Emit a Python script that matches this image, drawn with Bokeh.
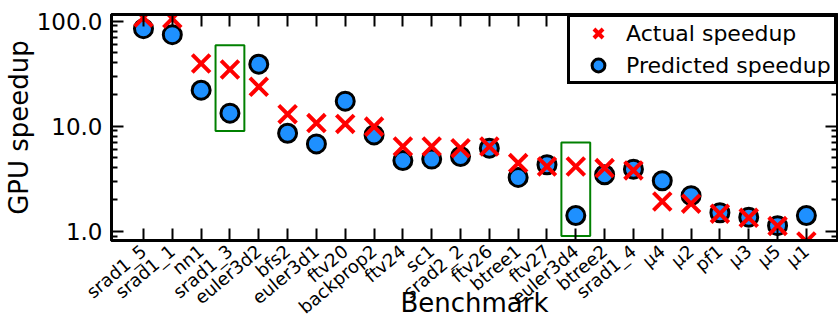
from bokeh.plotting import figure
from bokeh.models import (Range1d, FixedTicker, LinearAxis, LogAxis, PrintfTickFormatter,
                          Legend, LegendItem, ColumnDataSource)
from bokeh.embed import file_html
from bokeh.resources import INLINE
import math

benchmarks = ["srad1_5", "srad1_1", "nn1", "srad1_3", "euler3d2", "bfs2", "euler3d1",
              "ftv20", "backprop2", "ftv24", "sc1", "srad2_2", "ftv26", "btree1", "ftv27",
              "euler3d4", "btree2", "srad1_4", "μ4", "μ2", "pf1", "μ3", "μ5", "μ1"]
actual = [108, 106, 39.5, 34.6, 23.7, 13.0, 10.7, 10.5, 9.9, 6.4, 6.4, 6.17, 6.4, 4.45,
          4.13, 4.13, 3.99, 3.79, 1.92, 1.83, 1.47, 1.34, 1.12, 0.80]
predicted = [84.7, 74.3, 22.0, 13.3, 38.9, 8.57, 6.78, 17.3, 8.26, 4.71, 4.86, 5.14, 6.17,
             3.25, 4.29, 1.41, 3.45, 3.90, 3.02, 2.18, 1.50, 1.36, 1.13, 1.41]
# highlighted benchmarks (index) and box extents in speedup units
box_index = [3, 15]
box_bottom = [9.0, 0.9]
box_top = [59.0, 7.0]
y_major = [1, 10, 100]
y_minor = [0.9, 2, 3, 4, 5, 6, 7, 8, 9, 20, 30, 40, 50, 60, 70, 80, 90]

FONT = "DejaVu Sans"
xs = list(range(len(benchmarks)))

p = figure(width=838, height=320, y_axis_type="log", output_backend="svg",
           toolbar_location=None, title=None,
           x_range=Range1d(-1.11, 24.08), y_range=Range1d(0.816, 115.6),
           min_border_left=107, min_border_right=1, min_border_top=14,
           min_border_bottom=79)
p.background_fill_color = "white"
p.border_fill_color = "white"
p.outline_line_color = "black"
p.outline_line_width = 3
p.xgrid.visible = False
p.ygrid.visible = False

src = ColumnDataSource(dict(x=xs, actual=actual, predicted=predicted))
r_pred = p.scatter("x", "predicted", source=src, marker="circle", size=18,
                   fill_color="#1E90FF", line_color="black", line_width=3)
r_act = p.scatter("x", "actual", source=src, marker="x", size=25,
                  line_color="#FF0000", line_width=4)

bsrc = ColumnDataSource(dict(left=[i - 0.5 for i in box_index],
                             right=[i + 0.5 for i in box_index],
                             bottom=box_bottom, top=box_top))
p.quad(left="left", right="right", bottom="bottom", top="top", source=bsrc,
       fill_color=None, line_color="green", line_width=2)

# bottom axis
xa = p.xaxis[0]
xa.ticker = FixedTicker(ticks=xs)
xa.major_label_overrides = {i: b for i, b in enumerate(benchmarks)}
xa.major_label_orientation = math.radians(40)
xa.major_label_text_font = FONT
xa.major_label_text_font_size = "18px"
xa.major_label_text_color = "black"
xa.major_label_standoff = 8
xa.axis_line_width = 3
xa.major_tick_in = 12
xa.major_tick_out = 0
xa.major_tick_line_width = 2
xa.minor_tick_line_color = None
xa.axis_label = "Benchmark"
xa.axis_label_text_font = FONT
xa.axis_label_text_font_size = "26px"
xa.axis_label_text_font_style = "normal"
xa.axis_label_text_color = "black"
xa.axis_label_standoff = -41

# left axis
ya = p.yaxis[0]
ya.ticker = FixedTicker(ticks=y_major, minor_ticks=y_minor)
ya.formatter = PrintfTickFormatter(format="%.1f")
ya.major_label_text_font = FONT
ya.major_label_text_font_size = "23px"
ya.major_label_text_color = "black"
ya.major_label_standoff = 9
ya.axis_line_width = 3
ya.major_tick_in = 12
ya.major_tick_out = 0
ya.minor_tick_in = 6
ya.minor_tick_out = 0
ya.major_tick_line_width = 2
ya.minor_tick_line_width = 2
ya.axis_label = "GPU speedup"
ya.axis_label_text_font = FONT
ya.axis_label_text_font_size = "26px"
ya.axis_label_text_font_style = "normal"
ya.axis_label_text_color = "black"
ya.axis_label_standoff = 0

# top axis (ticks only)
ta = LinearAxis(ticker=FixedTicker(ticks=xs))
ta.major_label_overrides = {i: "" for i in xs}
ta.major_label_text_font_size = "1px"
ta.major_label_standoff = 0
ta.axis_line_width = 3
ta.major_tick_in = 12
ta.major_tick_out = 0
ta.major_tick_line_width = 2
ta.minor_tick_line_color = None
p.add_layout(ta, "above")

# right axis (ticks only)
ra = LogAxis(ticker=FixedTicker(ticks=y_major, minor_ticks=y_minor))
ra.major_label_overrides = {1: "", 10: "", 100: ""}
ra.major_label_text_font_size = "1px"
ra.major_label_standoff = 0
ra.axis_line_width = 3
ra.major_tick_in = 12
ra.major_tick_out = 0
ra.minor_tick_in = 6
ra.minor_tick_out = 0
ra.major_tick_line_width = 2
ra.minor_tick_line_width = 2
p.add_layout(ra, "right")

legend = Legend(items=[LegendItem(label="Actual speedup", renderers=[r_act]),
                       LegendItem(label="Predicted speedup", renderers=[r_pred])],
                location="top_right", margin=0, padding=0, spacing=-10,
                glyph_width=56, glyph_height=32, label_standoff=-2, label_height=32,
                label_width=208,
                label_text_font=FONT, label_text_font_size="22px",
                label_text_color="black", border_line_color="black",
                border_line_alpha=1.0, border_line_width=3, background_fill_alpha=1.0)
p.add_layout(legend)

open("out.html", "w").write(file_html(p, INLINE))
